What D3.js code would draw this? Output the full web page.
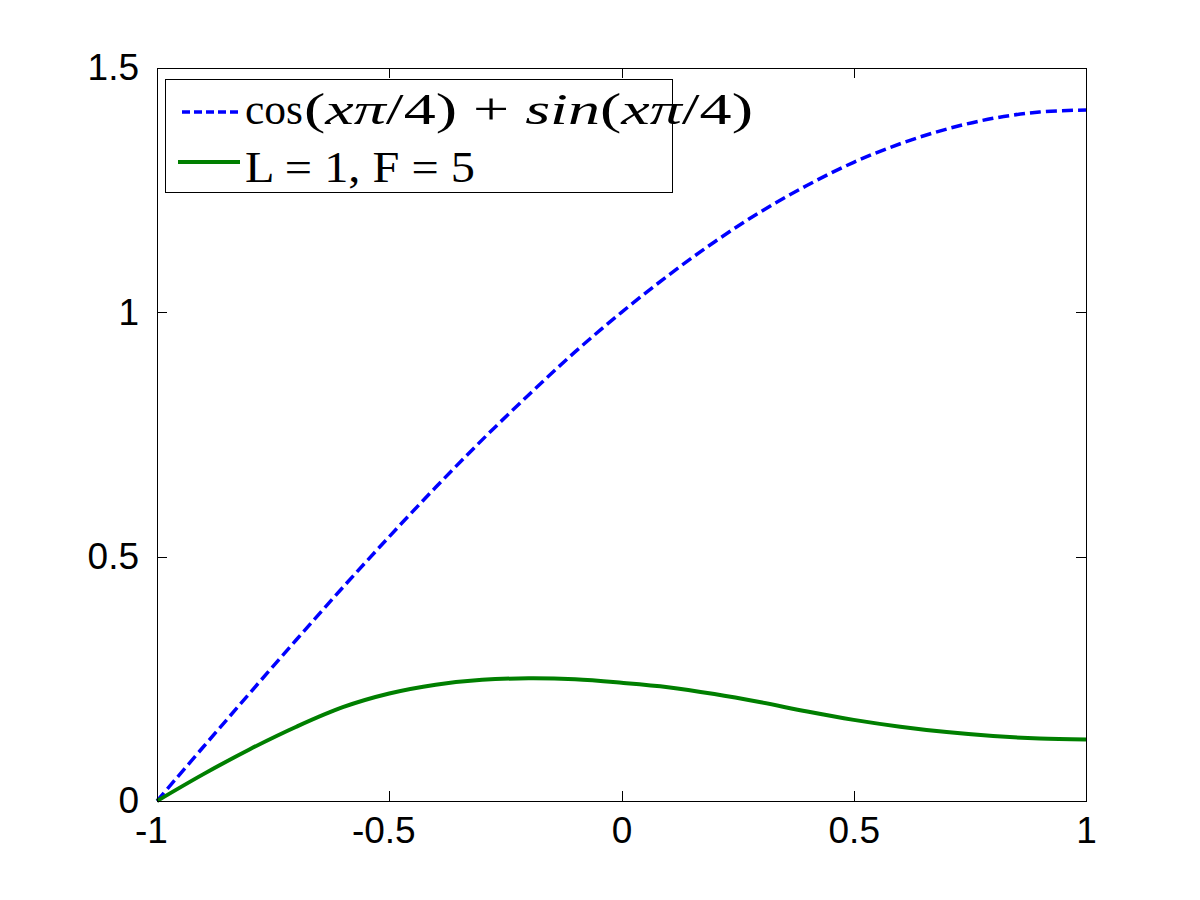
<!DOCTYPE html>
<html>
<head>
<meta charset="utf-8">
<title>L=1, F=5</title>
<script src="https://cdn.jsdelivr.net/npm/d3@7"></script>
<style>
  html, body { margin: 0; padding: 0; background: #ffffff; }
  svg { display: block; }
</style>
</head>
<body>
<div id="chart"></div>
<script>
// ############################################################################
// Data
// ############################################################################

const xValues = [-1, -0.9, -0.8, -0.7, -0.6, -0.5, -0.4, -0.3, -0.2, -0.1,
                 0, 0.1, 0.2, 0.3, 0.4, 0.5, 0.6, 0.7, 0.8, 0.9, 1]

// dashed blue: cos(x pi/4) + sin(x pi/4)
const exactValues = [0, 0.111, 0.221, 0.330, 0.437, 0.541, 0.642, 0.739,
                     0.831, 0.919, 1.000, 1.075, 1.144, 1.206, 1.260, 1.307,
                     1.345, 1.375, 1.397, 1.410, 1.414]

// solid green: L=1, F=5
const approxValues = [0, 0.055, 0.106, 0.152, 0.192, 0.220, 0.238, 0.248,
                      0.251, 0.249, 0.242, 0.233, 0.219, 0.202, 0.183, 0.166,
                      0.152, 0.141, 0.133, 0.128, 0.126]

const xTicks = [-1, -0.5, 0, 0.5, 1]
const yTicks = [0, 0.5, 1, 1.5]

// ############################################################################
// Layout
// ############################################################################

const width  = 1200
const height = 900
const plot = { left: 157, right: 1086, top: 68, bottom: 801 }
const tickLen = 10
const tickFont = "Liberation Sans, Arial, sans-serif"
const tickSize = 37
const legendFont = "Liberation Serif, Times New Roman, serif"

// plain hyphen minus, as in the reference
const fmt = d => String(d)

const svg = d3.select("#chart")
  .append("svg")
  .attr("width", width)
  .attr("height", height)
  .style("background-color", "#ffffff")

const x = d3.scaleLinear().domain([-1, 1]).range([plot.left, plot.right])
const y = d3.scaleLinear().domain([0, 1.5]).range([plot.bottom, plot.top])

// ============================================================================
// Curves
// ============================================================================

const line = d3.line()
  .x(d => x(d[0]))
  .y(d => y(d[1]))
  .curve(d3.curveCatmullRom.alpha(0.5))

svg.append("path")
  .datum(xValues.map((v, i) => [v, exactValues[i]]))
  .attr("d", line)
  .attr("fill", "none")
  .attr("stroke", "#0000ff")
  .attr("stroke-width", 3.5)
  .attr("stroke-dasharray", "11,5")

svg.append("path")
  .datum(xValues.map((v, i) => [v, approxValues[i]]))
  .attr("d", line)
  .attr("fill", "none")
  .attr("stroke", "#007f00")
  .attr("stroke-width", 4)

// ============================================================================
// Axes box with inward ticks on all four sides
// ============================================================================

svg.append("rect")
  .attr("x", plot.left)
  .attr("y", plot.top)
  .attr("width", plot.right - plot.left)
  .attr("height", plot.bottom - plot.top)
  .attr("fill", "none")
  .attr("stroke", "#000")
  .attr("stroke-width", 1)
  .attr("shape-rendering", "crispEdges")

const axisBottom = d3.axisBottom(x).tickValues(xTicks)
  .tickSizeInner(-tickLen).tickSizeOuter(0).tickFormat(fmt).tickPadding(16)
const axisTop = d3.axisTop(x).tickValues(xTicks)
  .tickSizeInner(-tickLen).tickSizeOuter(0).tickFormat("")
const axisLeft = d3.axisLeft(y).tickValues(yTicks)
  .tickSizeInner(-tickLen).tickSizeOuter(0).tickFormat(fmt).tickPadding(18)
const axisRight = d3.axisRight(y).tickValues(yTicks)
  .tickSizeInner(-tickLen).tickSizeOuter(0).tickFormat("")

function styleAxis(g)
{
  g.select(".domain").remove()
  g.selectAll(".tick line")
    .attr("stroke", "#000")
    .attr("stroke-width", 1)
    .attr("shape-rendering", "crispEdges")
  g.selectAll(".tick text")
    .attr("fill", "#000")
    .style("font-family", tickFont)
    .style("font-size", tickSize + "px")
}

const gBottom = svg.append("g")
  .attr("transform", `translate(0,${plot.bottom})`)
  .call(axisBottom)
  .call(styleAxis)
// MATLAB centres negative labels on their digits
gBottom.selectAll(".tick text")
  .attr("dx", d => d < 0 ? -6 : 0)

svg.append("g")
  .attr("transform", `translate(0,${plot.top})`)
  .call(axisTop)
  .call(styleAxis)

svg.append("g")
  .attr("transform", `translate(${plot.left},0)`)
  .call(axisLeft)
  .call(styleAxis)

svg.append("g")
  .attr("transform", `translate(${plot.right},0)`)
  .call(axisRight)
  .call(styleAxis)

// ============================================================================
// Legend
// ============================================================================

const legend = svg.append("g")

legend.append("rect")
  .attr("x", 165).attr("y", 79)
  .attr("width", 507).attr("height", 113)
  .attr("fill", "#ffffff")
  .attr("stroke", "#000")
  .attr("stroke-width", 1)
  .attr("shape-rendering", "crispEdges")

legend.append("line")
  .attr("x1", 182).attr("x2", 239).attr("y1", 112).attr("y2", 112)
  .attr("stroke", "#0000ff").attr("stroke-width", 3.5)
  .attr("stroke-dasharray", "8,4")

legend.append("line")
  .attr("x1", 178).attr("x2", 240).attr("y1", 162).attr("y2", 162)
  .attr("stroke", "#007f00").attr("stroke-width", 4)

// First entry: "cos" upright, then the math part right after it
legend.append("text")
  .attr("x", 245).attr("y", 124)
  .attr("textLength", 58).attr("lengthAdjust", "spacingAndGlyphs")
  .style("font-family", legendFont).style("font-size", "44px")
  .text("cos")

const math = legend.append("text")
  .attr("x", 304).attr("y", 124)
  .attr("textLength", 449).attr("lengthAdjust", "spacingAndGlyphs")
  .style("font-family", legendFont).style("font-size", "44px")

math.append("tspan").text("(")
math.append("tspan").style("font-style", "italic").text("xπ")
math.append("tspan").text("/4) + ")
math.append("tspan").style("font-style", "italic").text("sin")
math.append("tspan").text("(")
math.append("tspan").style("font-style", "italic").text("xπ")
math.append("tspan").text("/4)")

legend.append("text")
  .attr("x", 245).attr("y", 182)
  .attr("textLength", 230).attr("lengthAdjust", "spacingAndGlyphs")
  .style("font-family", legendFont).style("font-size", "44px")
  .text("L = 1, F = 5")
</script>
</body>
</html>
